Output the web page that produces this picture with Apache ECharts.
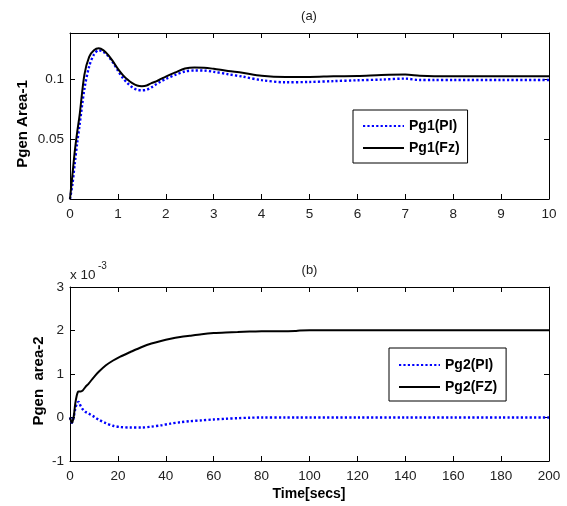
<!DOCTYPE html>
<html>
<head>
<meta charset="utf-8">
<script src="https://cdn.jsdelivr.net/npm/echarts@6/dist/echarts.min.js"></script>
<style>
  html, body { margin: 0; padding: 0; background: #fff; }
  #chart { width: 567px; height: 506px; }
</style>
</head>
<body>
<div id="chart"></div>
<script>
// (a) Generated power, area 1 — time in seconds
const tA = [0, 0.05, 0.1, 0.15, 0.2, 0.3, 0.4, 0.5, 0.6, 0.7, 0.8, 0.9, 1.0, 1.1, 1.2, 1.3, 1.4, 1.5, 1.6, 1.7, 1.8, 1.9, 2.0, 2.2, 2.4, 2.6, 2.8, 3.0, 3.3, 3.6, 4.0, 4.5, 5.0, 5.5, 6.0, 6.5, 7.0, 7.3, 7.6, 8, 9, 10];
const pg1PI = [0, 0.012, 0.03, 0.047, 0.062, 0.092, 0.111, 0.121, 0.1245, 0.1232, 0.1195, 0.114, 0.1075, 0.1015, 0.097, 0.0935, 0.0915, 0.091, 0.0915, 0.0935, 0.096, 0.0985, 0.1005, 0.104, 0.1068, 0.1076, 0.1075, 0.1065, 0.1045, 0.1025, 0.0995, 0.0977, 0.098, 0.0987, 0.0994, 0.1, 0.1008, 0.0996, 0.0996, 0.0997, 0.0997, 0.0997];
const pg1Fz = [0, 0.02, 0.04, 0.056, 0.07, 0.104, 0.119, 0.1245, 0.1262, 0.1245, 0.1205, 0.115, 0.109, 0.104, 0.1, 0.097, 0.095, 0.0945, 0.095, 0.097, 0.0985, 0.1005, 0.1025, 0.106, 0.1092, 0.1102, 0.11, 0.109, 0.1072, 0.1057, 0.1032, 0.1022, 0.1022, 0.1028, 0.103, 0.1038, 0.1042, 0.1032, 0.1028, 0.1028, 0.1028, 0.1028];

// (b) Generated power, area 2 — values in units of 1e-3
const tB = [0, 0.8, 1.5, 2.2, 2.8, 3.3, 3.6, 4, 4.5, 5.3, 6.4, 7.8, 10, 12, 15, 18, 21, 25, 30, 34, 38, 42, 46, 50, 55, 60, 65, 70, 75, 80, 90, 94, 96, 100, 120, 140, 160, 180, 200];
const pg2PI = [0, -0.12, 0.0, 0.2, 0.31, 0.35, 0.36, 0.32, 0.26, 0.19, 0.13, 0.09, 0.02, -0.05, -0.13, -0.19, -0.22, -0.23, -0.23, -0.21, -0.18, -0.14, -0.11, -0.085, -0.065, -0.045, -0.03, -0.015, -0.005, 0, 0, 0, 0, 0, 0, 0, 0, 0, 0];
const pg2FZ = [0, -0.12, 0, 0.32, 0.5, 0.59, 0.6, 0.6, 0.6, 0.62, 0.7, 0.78, 0.93, 1.05, 1.2, 1.31, 1.4, 1.5, 1.62, 1.7, 1.76, 1.81, 1.85, 1.88, 1.915, 1.94, 1.955, 1.965, 1.975, 1.98, 1.985, 1.988, 1.998, 2.005, 2.005, 2.005, 2.005, 2.005, 2.005];

const xTicksA = { min: 0, max: 10, interval: 1 };
const yTicksA = { min: 0, max: 0.139, interval: 0.05 };
const xTicksB = { min: 0, max: 200, interval: 20 };
const yTicksB = { min: -1, max: 3, interval: 1 };

const FONT = "'Liberation Sans', Arial, sans-serif";
const pairs = (xs, ys) => xs.map((x, i) => [x, ys[i]]);

const chart = echarts.init(document.getElementById('chart'), null, { renderer: 'canvas' });

const frameLine = { show: true, onZero: false, lineStyle: { color: '#000', width: 1 } };
const tickIn = { show: true, inside: true, length: 5, lineStyle: { color: '#000', width: 1 } };
const labelStyle = { color: '#222', fontSize: 13.5, fontFamily: FONT };

function xAxes(gridIndex, ticks) {
  return [
    { type: 'value', gridIndex, position: 'bottom', ...ticks,
      axisLine: frameLine, axisTick: tickIn, splitLine: { show: false },
      axisLabel: { ...labelStyle, margin: 8 } },
    { type: 'value', gridIndex, position: 'top', ...ticks,
      axisLine: frameLine, axisTick: tickIn, splitLine: { show: false },
      axisLabel: { show: false } }
  ];
}
function yAxes(gridIndex, ticks) {
  return [
    { type: 'value', gridIndex, position: 'left', ...ticks,
      axisLine: frameLine, axisTick: tickIn, splitLine: { show: false },
      axisLabel: { ...labelStyle, margin: 6, showMaxLabel: ticks.max % ticks.interval === 0 } },
    { type: 'value', gridIndex, position: 'right', ...ticks,
      axisLine: frameLine, axisTick: tickIn, splitLine: { show: false },
      axisLabel: { show: false } }
  ];
}

const lineBase = { type: 'line', symbol: 'none', smooth: 0.3, silent: true };
const piStyle = { color: '#0000ff', width: 2.4, type: [2.2, 2.2] };
const fzStyle = { color: '#000000', width: 2, type: 'solid' };

// legend keys show only the line sample, no marker
const legendBase = {
  orient: 'vertical',
  borderColor: '#000', borderWidth: 1,
  backgroundColor: '#fff',
  itemWidth: 41, itemHeight: 14, itemGap: 8,
  itemStyle: { opacity: 0, borderWidth: 0 },
  textStyle: { color: '#000', fontSize: 14, fontWeight: 'bold', fontFamily: FONT },
  selectedMode: false
};

chart.setOption({
  animation: false,
  backgroundColor: '#fff',
  grid: [
    { left: 70, top: 33, width: 479, height: 166 },
    { left: 70, top: 287, width: 479, height: 174 }
  ],
  xAxis: [...xAxes(0, xTicksA), ...xAxes(1, xTicksB)],
  yAxis: [...yAxes(0, yTicksA), ...yAxes(1, yTicksB)],
  legend: [
    { ...legendBase, left: 353, top: 110, padding: [9, 8, 8, 9], data: ['Pg1(PI)', 'Pg1(Fz)'] },
    { ...legendBase, left: 389, top: 348, padding: [10, 9, 7, 9], data: ['Pg2(PI)', 'Pg2(FZ)'] }
  ],
  series: [
    { ...lineBase, name: 'Pg1(PI)', xAxisIndex: 0, yAxisIndex: 0, color: '#0000ff', lineStyle: piStyle, data: pairs(tA, pg1PI) },
    { ...lineBase, name: 'Pg1(Fz)', xAxisIndex: 0, yAxisIndex: 0, color: '#000000', lineStyle: fzStyle, data: pairs(tA, pg1Fz) },
    { ...lineBase, name: 'Pg2(PI)', xAxisIndex: 2, yAxisIndex: 2, color: '#0000ff', lineStyle: piStyle, data: pairs(tB, pg2PI) },
    { ...lineBase, name: 'Pg2(FZ)', xAxisIndex: 2, yAxisIndex: 2, color: '#000000', lineStyle: fzStyle, data: pairs(tB, pg2FZ) }
  ],
  graphic: [
    { type: 'text', x: 309, y: 16, style: { text: '(a)', fill: '#222', font: `13px ${FONT}`, textAlign: 'center', textVerticalAlign: 'middle' } },
    { type: 'text', x: 309.5, y: 270, style: { text: '(b)', fill: '#222', font: `13px ${FONT}`, textAlign: 'center', textVerticalAlign: 'middle' } },
    { type: 'text', x: 70, y: 275, style: { text: 'x 10', fill: '#222', font: `13.5px ${FONT}`, textAlign: 'left', textVerticalAlign: 'middle' } },
    { type: 'text', x: 98, y: 266, style: { text: '-3', fill: '#222', font: `10px ${FONT}`, textAlign: 'left', textVerticalAlign: 'middle' } },
    { type: 'text', x: 22.5, y: 124, rotation: Math.PI / 2, style: { text: 'Pgen Area-1', fill: '#000', font: `bold 15px ${FONT}`, textAlign: 'center', textVerticalAlign: 'middle' } },
    { type: 'text', x: 39, y: 381, rotation: Math.PI / 2, style: { text: 'Pgen  area-2', fill: '#000', font: `bold 15px ${FONT}`, textAlign: 'center', textVerticalAlign: 'middle' } },
    { type: 'text', x: 309, y: 494, style: { text: 'Time[secs]', fill: '#000', font: `bold 14px ${FONT}`, textAlign: 'center', textVerticalAlign: 'middle' } }
  ]
});
</script>
</body>
</html>
